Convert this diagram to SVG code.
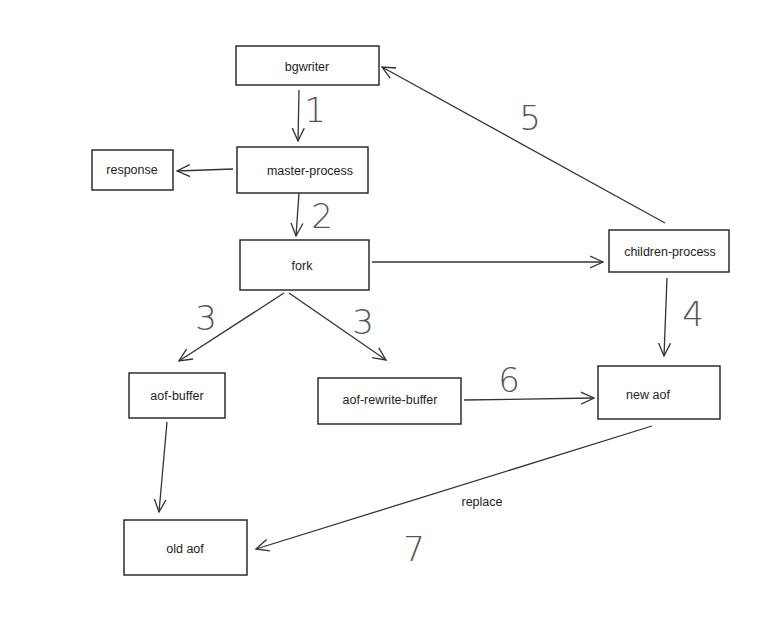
<svg xmlns="http://www.w3.org/2000/svg" width="764" height="620" viewBox="0 0 764 620">
<defs>
<style>
.box{fill:#fff;stroke:#1e1e1e;stroke-width:1.4}
.lbl{font-family:"Liberation Sans","DejaVu Sans",sans-serif;font-size:12.5px;fill:#1e1e1e;text-anchor:middle;dominant-baseline:central}
.num{font-family:"DejaVu Sans","Liberation Sans",sans-serif;font-size:34px;fill:#555;font-weight:200;text-anchor:middle;dominant-baseline:central}
.edge{fill:none;stroke:#333;stroke-width:1.3;marker-end:url(#ah)}
</style>
<marker id="ah" viewBox="0 0 14 14" refX="13" refY="7" markerWidth="14" markerHeight="14" markerUnits="userSpaceOnUse" orient="auto">
<path d="M0,1 L13,7 L0,13" fill="none" stroke="#333" stroke-width="1.3"/>
</marker>
</defs>
<rect width="764" height="620" fill="#fff"/>
<g id="connectors">
<line class="edge" x1="299" y1="90" x2="298" y2="141"/>
<line class="edge" x1="233" y1="169" x2="177" y2="171"/>
<line class="edge" x1="299" y1="193" x2="296" y2="236"/>
<line class="edge" x1="372" y1="262" x2="603" y2="262"/>
<line class="edge" x1="284" y1="293" x2="179" y2="361"/>
<line class="edge" x1="289" y1="293" x2="386" y2="360"/>
<line class="edge" x1="665" y1="223" x2="382" y2="67"/>
<line class="edge" x1="667" y1="278" x2="664" y2="356"/>
<line class="edge" x1="464" y1="400" x2="594" y2="398"/>
<line class="edge" x1="167" y1="422" x2="159" y2="512"/>
<line class="edge" x1="652" y1="426" x2="256" y2="549"/>
<text class="num" x="315" y="110" font-size="30">1</text>
<text class="num" x="322" y="216" font-size="26">2</text>
<text class="num" x="206" y="318">3</text>
<text class="num" x="363" y="322">3</text>
<text class="num" x="693" y="314">4</text>
<text class="num" x="530" y="118">5</text>
<text class="num" x="509" y="380" font-size="28">6</text>
<text class="num" x="414" y="549">7</text>
<text class="lbl" x="482" y="502">replace</text>
</g>
<g id="bgwriter"><rect class="box" x="236" y="46" width="143" height="39"/><text class="lbl" x="307" y="67">bgwriter</text></g>
<g id="master-process"><rect class="box" x="237" y="147" width="131" height="46"/><text class="lbl" x="310" y="171">master-process</text></g>
<g id="response"><rect class="box" x="92" y="150" width="81" height="40"/><text class="lbl" x="132" y="170">response</text></g>
<g id="fork"><rect class="box" x="240" y="240" width="129" height="50"/><text class="lbl" x="302" y="266">fork</text></g>
<g id="children-process"><rect class="box" x="609" y="230" width="120" height="42"/><text class="lbl" x="670" y="252">children-process</text></g>
<g id="aof-buffer"><rect class="box" x="129" y="373" width="96" height="45"/><text class="lbl" x="177" y="396">aof-buffer</text></g>
<g id="aof-rewrite-buffer"><rect class="box" x="318" y="378" width="143" height="46"/><text class="lbl" x="390" y="400">aof-rewrite-buffer</text></g>
<g id="new-aof"><rect class="box" x="598" y="366" width="122" height="53"/><text class="lbl" x="648" y="395">new aof</text></g>
<g id="old-aof"><rect class="box" x="124" y="520" width="123" height="55"/><text class="lbl" x="185" y="549">old aof</text></g>
</svg>
